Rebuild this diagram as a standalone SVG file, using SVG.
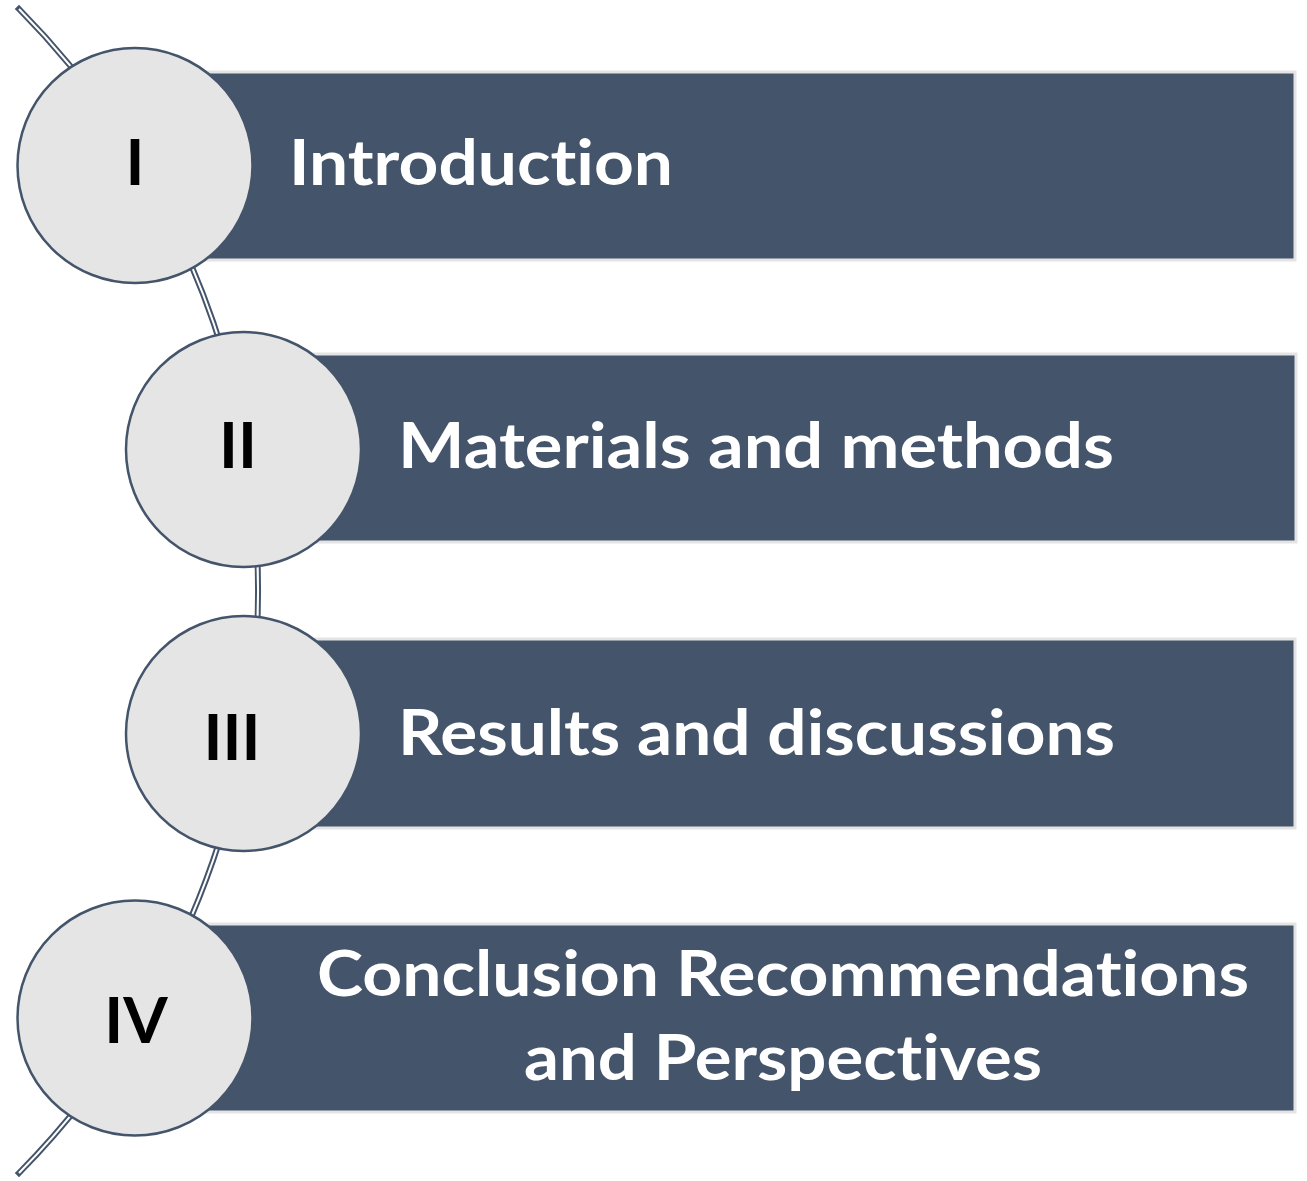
<svg xmlns="http://www.w3.org/2000/svg" width="1307" height="1181" viewBox="0 0 1307 1181">
  <style>
    .bar { fill: #44546a; stroke: #e4e4e4; stroke-width: 3; }
    .disc { fill: #e5e5e5; stroke: #44546a; stroke-width: 2.5; }
    .num { font-family: Lato, "Open Sans", sans-serif; font-weight: 700; font-size: 64px; fill: #000000; text-anchor: middle; }
    .label { font-family: Lato, "Open Sans", sans-serif; font-weight: 700; font-size: 63px; fill: #ffffff; font-variant-ligatures: none; font-feature-settings: "liga" 0, "dlig" 0; }
    .rail-out { fill: none; stroke: #44546a; stroke-width: 6; stroke-linecap: square; }
    .rail-in { fill: none; stroke: #ffffff; stroke-width: 2; }
  </style>

  <!-- double-line arc threading the four discs -->
  <g id="connectors">
    <path class="rail-out" d="M 19 9 A 828 828 0 0 1 19 1173"/>
    <path class="rail-in" d="M 19 9 A 828 828 0 0 1 19 1173"/>
  </g>

  <g id="step-1">
    <rect class="bar" x="135" y="72" width="1160" height="188"/>
    <circle class="disc" cx="135" cy="165.5" r="117.5"/>
    <text class="num" x="135" y="185">I</text>
    <text class="label" x="289" y="185" textLength="384" lengthAdjust="spacingAndGlyphs">Introduction</text>
  </g>

  <g id="step-2">
    <rect class="bar" x="243" y="354" width="1053" height="188"/>
    <circle class="disc" cx="243.5" cy="449.5" r="117.5"/>
    <text class="num" x="238" y="468">II</text>
    <text class="label" x="398" y="468" textLength="716" lengthAdjust="spacingAndGlyphs">Materials and methods</text>
  </g>

  <g id="step-3">
    <rect class="bar" x="243" y="639" width="1052" height="189"/>
    <circle class="disc" cx="243.5" cy="733.5" r="117.5"/>
    <text class="num" x="232" y="760">III</text>
    <text class="label" x="398" y="755" textLength="717" lengthAdjust="spacingAndGlyphs">Results and discussions</text>
  </g>

  <g id="step-4">
    <rect class="bar" x="135" y="924" width="1160" height="188"/>
    <circle class="disc" cx="135" cy="1018" r="117.5"/>
    <text class="num" x="136" y="1043">IV</text>
    <text class="label" x="317" y="996" textLength="932" lengthAdjust="spacingAndGlyphs">Conclusion Recommendations</text>
    <text class="label" x="524" y="1080" textLength="518" lengthAdjust="spacingAndGlyphs">and Perspectives</text>
  </g>
</svg>
